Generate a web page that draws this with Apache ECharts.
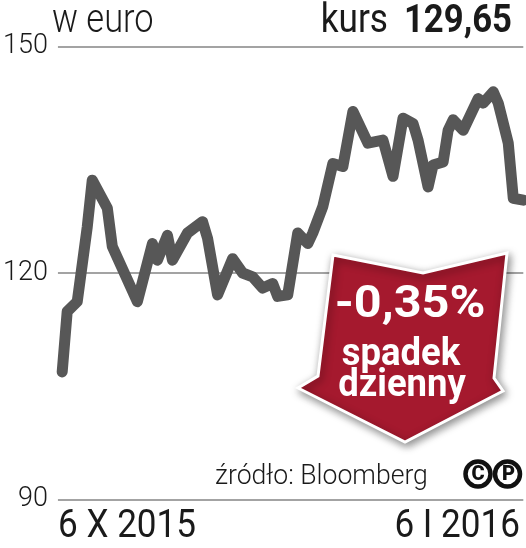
<!DOCTYPE html>
<html>
<head>
<meta charset="utf-8">
<script src="https://cdn.jsdelivr.net/npm/echarts@6/dist/echarts.min.js"></script>
<style>
html,body{margin:0;padding:0;background:#fff;}
#chart{width:526px;height:548px;}
</style>
</head>
<body>
<div id="chart"></div>
<script>
// ---- data ----
var dates = ['2015-10-06','2015-10-07','2015-10-09','2015-10-11','2015-10-12','2015-10-15','2015-10-16','2015-10-21','2015-10-24','2015-10-25','2015-10-27','2015-10-28','2015-10-31','2015-11-03','2015-11-04','2015-11-06','2015-11-09','2015-11-11','2015-11-13','2015-11-15','2015-11-17','2015-11-18','2015-11-20','2015-11-22','2015-11-24','2015-11-25','2015-11-27','2015-11-29','2015-12-01','2015-12-03','2015-12-06','2015-12-09','2015-12-11','2015-12-13','2015-12-15','2015-12-16','2015-12-18','2015-12-19','2015-12-21','2015-12-22','2015-12-23','2015-12-25','2015-12-28','2015-12-29','2015-12-31','2016-01-01','2016-01-03','2016-01-04','2016-01-06'];
var prices = [106.9,114.9,116.2,126.1,132.3,128.6,123.5,116.2,123.9,121.7,125.0,121.7,125.3,126.8,124.6,117.1,121.9,120.0,119.5,118.0,118.6,116.9,117.1,125.3,123.9,125.3,128.8,134.5,134.1,141.4,137.2,137.6,132.8,140.5,139.8,137.6,131.4,134.3,134.7,138.9,140.3,138.9,143.1,142.5,144.0,142.5,137.2,129.9,129.65];
var yTicks = [90, 120, 150];
var xTickLabels = ['6 X 2015', '6 I 2016'];
var unitLabel = 'w euro';
var rateLabel = 'kurs';
var rateValue = '129,65';
var changeLabel = '-0,35%';
var changeText = ['spadek', 'dzienny'];
var sourceLabel = 'źródło: Bloomberg';

var seriesData = dates.map(function (d, i) { return [d, prices[i]]; });
var DAY = 86400000;

var chart = echarts.init(document.getElementById('chart'), null, {renderer: 'canvas'});
var txt = '#1a1a1a';
chart.setOption({
  animation: false,
  grid: {left: 54, right: 2.7, top: 46.5, bottom: 48.5},
  xAxis: {
    type: 'time',
    min: function (v) { return v.min - 0.85 * DAY; },
    max: function (v) { return v.max; },
    axisLine: {show: false}, axisTick: {show: false},
    axisLabel: {show: false}, splitLine: {show: false}
  },
  yAxis: {
    type: 'value',
    min: yTicks[0], max: yTicks[yTicks.length - 1], interval: yTicks[1] - yTicks[0],
    axisLine: {show: false}, axisTick: {show: false},
    axisLabel: {fontFamily: 'Roboto', fontWeight: 300, fontSize: 27, color: txt, margin: 10},
    splitLine: {lineStyle: {color: '#a3a3a3', width: 2}}
  },
  series: [{
    type: 'line',
    data: seriesData,
    showSymbol: false,
    clip: false,
    lineStyle: {color: '#575757', width: 11, cap: 'round', join: 'round'},
    z: 3
  }],
  graphic: [
    {type: 'text', x: 52, y: 22, scaleX: 0.84, z: 20,
      style: {text: unitLabel, fontFamily: 'Roboto', fontWeight: 300, fontSize: 41, fill: txt, align: 'left', verticalAlign: 'middle'}},
    {type: 'text', x: 388, y: 22, scaleX: 0.88, z: 20,
      style: {text: rateLabel, fontFamily: 'Roboto', fontWeight: 400, fontSize: 40, fill: txt, align: 'right', verticalAlign: 'middle'}},
    {type: 'text', x: 512, y: 22, scaleX: 0.89, z: 20,
      style: {text: rateValue, fontFamily: 'Roboto', fontWeight: 700, fontSize: 39, fill: txt, align: 'right', verticalAlign: 'middle'}},
    {type: 'text', x: 58, y: 527, scaleX: 0.9, z: 20,
      style: {text: xTickLabels[0], fontFamily: 'Roboto', fontWeight: 400, fontSize: 39, fill: txt, align: 'left', verticalAlign: 'middle'}},
    {type: 'text', x: 520, y: 527, scaleX: 0.9, z: 20,
      style: {text: xTickLabels[1], fontFamily: 'Roboto', fontWeight: 400, fontSize: 39, fill: txt, align: 'right', verticalAlign: 'middle'}},
    {type: 'text', x: 215, y: 477, scaleX: 0.95, z: 20,
      style: {text: sourceLabel, fontFamily: 'Roboto', fontWeight: 300, fontSize: 28, fill: txt, align: 'left', verticalAlign: 'middle'}},
    {type: 'circle', z: 20, shape: {cx: 478, cy: 474, r: 12.5},
      style: {fill: '#fff', stroke: '#111', lineWidth: 4.5}},
    {type: 'circle', z: 20, shape: {cx: 507.5, cy: 474, r: 12.5},
      style: {fill: '#fff', stroke: '#111', lineWidth: 4.5}},
    {type: 'text', x: 478, y: 475, z: 21,
      style: {text: 'C', fontFamily: 'Roboto', fontWeight: 900, fontSize: 20, fill: '#111', align: 'center', verticalAlign: 'middle'}},
    {type: 'text', x: 508.5, y: 475, z: 21,
      style: {text: 'P', fontFamily: 'Roboto', fontWeight: 900, fontSize: 20, fill: '#111', align: 'center', verticalAlign: 'middle'}},
    {type: 'polygon', z: 30,
      shape: {points: [[333, 255], [423, 273], [507, 253], [494, 378], [503, 391], [405, 442], [298, 388], [318, 376]]},
      style: {fill: '#a5192e', stroke: '#ffffff', lineWidth: 3, lineJoin: 'miter',
        shadowBlur: 8, shadowColor: 'rgba(0,0,0,0.45)', shadowOffsetX: 2, shadowOffsetY: 3}},
    {type: 'text', x: 410, y: 306, scaleX: 1.08, z: 31,
      style: {text: changeLabel, fontFamily: 'Roboto', fontWeight: 700, fontSize: 45, fill: '#fff', align: 'center', verticalAlign: 'middle'}},
    {type: 'text', x: 401, y: 355, scaleX: 0.96, z: 31,
      style: {text: changeText[0], fontFamily: 'Roboto', fontWeight: 700, fontSize: 38, fill: '#fff', align: 'center', verticalAlign: 'middle'}},
    {type: 'text', x: 402, y: 386, scaleX: 0.96, z: 31,
      style: {text: changeText[1], fontFamily: 'Roboto', fontWeight: 700, fontSize: 38, fill: '#fff', align: 'center', verticalAlign: 'middle'}}
  ]
});
</script>
</body>
</html>
